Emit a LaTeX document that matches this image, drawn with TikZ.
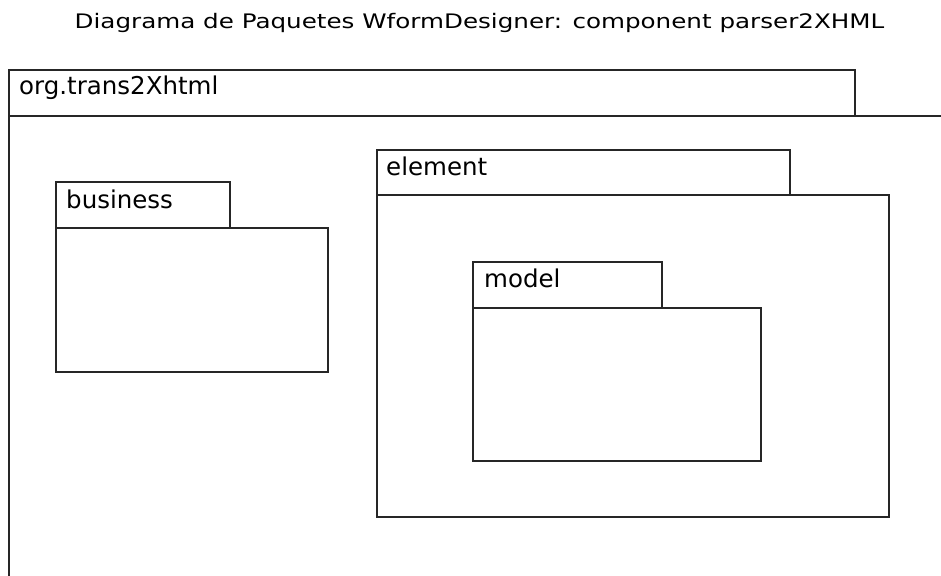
\documentclass[tikz,border=0pt]{standalone}
\usepackage{fontspec}
\setmainfont{DejaVu Sans}
\newfontfamily\titlefont[FakeStretch=1.23]{DejaVu Sans}
\begin{document}
\begin{tikzpicture}[x=1pt,y=-1pt,
  pkg/.style={draw=black!85, line width=1.9pt, fill=white},
  pkglabel/.style={anchor=base west, inner sep=0pt, font=\fontsize{24.5}{29}\selectfont},
  titlelabel/.style={anchor=base, inner sep=0pt, font=\titlefont\fontsize{20}{24}\selectfont}]
\useasboundingbox (0,0) rectangle (941,575);
% title
\node[titlelabel] (title) at (479.5,28.5) {Diagrama de Paquetes WformDesigner: component parser2XHML};
% outer package org.trans2Xhtml
\draw[pkg] (9,116) rectangle (855,70);
\draw[pkg] (9,116) -- (941,116);
\draw[pkg] (9,116) -- (9,576);
\node[pkglabel] (outer) at (19,95) {org.trans2Xhtml};
% business
\draw[pkg] (56,182) rectangle (230,228);
\draw[pkg] (56,228) rectangle (328,372);
\node[pkglabel] (business) at (66,208) {business};
% element
\draw[pkg] (377,150) rectangle (790,195);
\draw[pkg] (377,195) rectangle (889,517);
\node[pkglabel] (element) at (386,175) {element};
% model
\draw[pkg] (473,262) rectangle (662,308);
\draw[pkg] (473,308) rectangle (761,461);
\node[pkglabel] (model) at (484,287) {model};
\end{tikzpicture}
\end{document}
